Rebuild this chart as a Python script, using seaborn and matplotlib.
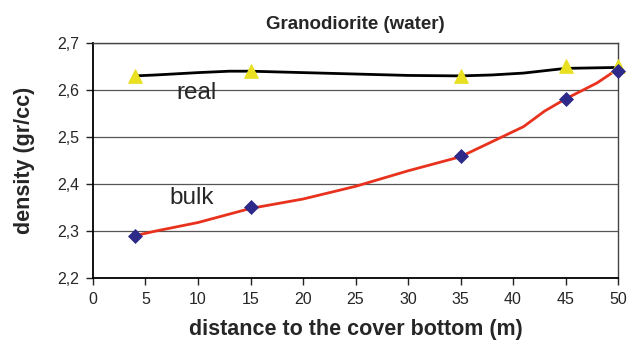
import matplotlib
matplotlib.use("Agg")
import matplotlib.pyplot as plt
import seaborn as sns
import pandas as pd

sns.set_style("white")
plt.rcParams['font.family'] = ['Liberation Sans', 'DejaVu Sans']

# measured points
pt_dist = [4, 15, 35, 45, 50]
real_pts = [2.63, 2.64, 2.63, 2.65, 2.65]
bulk_pts = [2.29, 2.35, 2.46, 2.58, 2.64]

# smoothed trend curves
real_curve_x = [4, 6, 10, 13, 15, 20, 25, 30, 35, 38, 41, 45, 50]
real_curve_y = [2.630, 2.632, 2.637, 2.640, 2.640, 2.637, 2.634, 2.631, 2.630, 2.632, 2.636, 2.646, 2.648]
bulk_curve_x = [4, 6, 10, 15, 20, 25, 30, 35, 38, 41, 43, 45, 48, 50]
bulk_curve_y = [2.290, 2.300, 2.318, 2.348, 2.368, 2.395, 2.428, 2.458, 2.490, 2.522, 2.555, 2.581, 2.615, 2.645]

xticks = list(range(0, 51, 5))
yticks = [2.2, 2.3, 2.4, 2.5, 2.6, 2.7]
ytick_labels = ["2,2", "2,3", "2,4", "2,5", "2,6", "2,7"]

fig = plt.figure(figsize=(6.3, 3.44), dpi=100)
ax = fig.add_axes([0.1476, 0.1919, 0.981 - 0.1476, 0.875 - 0.1919])

for v in yticks:
    ax.axhline(v, color="#555555", lw=0.9, zorder=0)

sns.lineplot(x=real_curve_x, y=real_curve_y, ax=ax, color="black", lw=2, zorder=2)
sns.lineplot(x=bulk_curve_x, y=bulk_curve_y, ax=ax, color="#e8321e", lw=2, zorder=2)
sns.scatterplot(x=pt_dist, y=real_pts, ax=ax, marker="^", s=95, color="#e8e020",
                edgecolor="#e8e020", zorder=3, clip_on=False)
sns.scatterplot(x=pt_dist, y=bulk_pts, ax=ax, marker="D", s=50, color="#2e2a8a",
                edgecolor="#2e2a8a", zorder=3, clip_on=False)

ax.set_xlim(0, 50)
ax.set_ylim(2.2, 2.7)
ax.set_xticks(xticks)
ax.set_xticklabels([str(t) for t in xticks], fontsize=11.5)
ax.set_yticks(yticks)
ax.set_yticklabels(ytick_labels, fontsize=11.5)
ax.tick_params(axis="both", direction="out", length=5, width=1, color="#222222",
               bottom=True, left=True, pad=5)

for side, sp in ax.spines.items():
    sp.set_color("#444444")
    sp.set_linewidth(1.0)
ax.spines["left"].set_color("black")
ax.spines["bottom"].set_color("black")
ax.spines["left"].set_linewidth(1.3)
ax.spines["bottom"].set_linewidth(1.3)

ax.text(9.9, 2.594, "real", fontsize=17.5, ha="center", va="center")
ax.text(9.4, 2.37, "bulk", fontsize=17.5, ha="center", va="center")

ax.set_title("Granodiorite (water)", fontsize=13.5, fontweight="bold", pad=10)
ax.set_xlabel("distance to the cover bottom (m)", fontsize=15.5, fontweight="bold", labelpad=9)
ax.set_ylabel("density (gr/cc)", fontsize=15.5, fontweight="bold", labelpad=16)

fig.savefig("out.png", dpi=100)
